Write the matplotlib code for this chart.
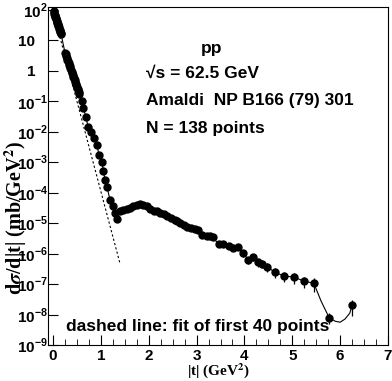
import numpy as np
import matplotlib
matplotlib.use("Agg")
import matplotlib.pyplot as plt
from matplotlib.ticker import FixedLocator, FixedFormatter, MultipleLocator

plt.rcParams['font.family'] = ['Liberation Sans', 'DejaVu Sans']
plt.rcParams['font.weight'] = 'bold'
plt.rcParams['mathtext.fontset'] = 'custom'
plt.rcParams['mathtext.rm'] = 'Liberation Sans:bold'
plt.rcParams['mathtext.bf'] = 'Liberation Sans:bold'

# |t| (GeV^2) and dsigma/dt (mb/GeV^2)
t_vals = [0.010, 0.018, 0.026, 0.034, 0.042, 0.050, 0.058, 0.066, 0.074, 0.082,
          0.090, 0.098, 0.106, 0.114, 0.122, 0.130, 0.138, 0.146, 0.154, 0.162, 0.170,
          0.250, 0.2625, 0.275, 0.2875, 0.300, 0.3125, 0.325, 0.3375, 0.350, 0.3625,
          0.375, 0.3875, 0.400, 0.4125, 0.425, 0.4375, 0.450, 0.4625, 0.475, 0.4875,
          0.500, 0.5125, 0.525, 0.5375, 0.550,
          0.61, 0.63, 0.69, 0.73, 0.80, 0.86, 0.92, 0.96, 1.03, 1.05, 1.09, 1.13,
          1.19, 1.26, 1.30, 1.34,
          1.40, 1.47, 1.55, 1.61, 1.68, 1.76, 1.82, 1.89, 1.97, 2.03, 2.10, 2.18,
          2.24, 2.31, 2.39, 2.47, 2.54, 2.60, 2.66, 2.73, 2.81, 2.89, 2.96, 3.02,
          3.12, 3.21, 3.29, 3.35, 3.46, 3.56, 3.67, 3.77, 3.86, 3.98, 4.07, 4.17,
          4.28, 4.36, 4.47, 4.63, 4.82, 5.03, 5.24, 5.45, 5.77, 6.25]
dsdt = [91.2, 83.6, 76.6, 70.1, 64.3, 58.9, 54.0, 49.4, 45.3, 41.5,
        38.0, 34.8, 31.9, 29.2, 26.8, 24.5, 22.5, 20.6, 18.9, 17.3, 15.8,
        3.98, 3.50, 3.08, 2.70, 2.37, 2.08, 1.83, 1.61, 1.41, 1.24,
        1.09, 0.957, 0.841, 0.740, 0.649, 0.570, 0.501, 0.441, 0.386, 0.340,
        0.299, 0.262, 0.230, 0.202, 0.178,
        0.107, 0.059, 0.0316, 0.0148, 0.010, 0.0063, 0.0037, 0.0017, 1.0e-3, 5.0e-4,
        2.7e-4, 1.5e-4, 5.9e-5, 3.7e-5, 2.1e-5, 1.35e-5,
        2.5e-5, 2.7e-5, 2.9e-5, 3.2e-5, 3.7e-5, 4.0e-5, 4.3e-5, 4.0e-5, 3.7e-5, 2.9e-5,
        2.5e-5, 2.5e-5, 2.1e-5, 2.0e-5, 1.7e-5, 1.47e-5, 1.26e-5, 1.17e-5, 1.0e-5, 8.6e-6,
        7.4e-6, 6.8e-6, 6.3e-6, 5.9e-6, 4.0e-6, 3.7e-6, 3.7e-6, 3.4e-6, 2.0e-6, 2.1e-6,
        1.85e-6, 1.58e-6, 1.7e-6, 1.07e-6, 6.3e-7, 7.9e-7, 5.4e-7, 4.7e-7, 3.7e-7, 2.5e-7,
        1.85e-7, 1.7e-7, 1.26e-7, 1.07e-7, 7.9e-9, 2.0e-8]
# relative errors (only visible on the tail)
rel_err = [0.03] * 62 + [0.05] * 28 + [0.15, 0.15, 0.2, 0.2, 0.2, 0.25, 0.25, 0.25,
           0.3, 0.3, 0.3, 0.35, 0.35, 0.4, 0.4, 0.5, 0.4, 0.55]

# solid curve through the tail
tail_t = [5.45, 5.60, 5.77, 5.90, 6.00, 6.10, 6.20, 6.25]
tail_y = [1.07e-7, 2.8e-8, 7.9e-9, 6.0e-9, 5.6e-9, 7.1e-9, 1.1e-8, 2.0e-8]

# exponential fit of the first 40 points (dashed)
fit_t = [0.0, 1.40]
fit_y = [93.0, 4.7e-7]

ytick_vals = [1e-9, 1e-8, 1e-7, 1e-6, 1e-5, 1e-4, 1e-3, 1e-2, 1e-1, 1, 10, 100]
ytick_labels = ['10$^{-9}$', '10$^{-8}$', '10$^{-7}$', '10$^{-6}$', '10$^{-5}$',
                '10$^{-4}$', '10$^{-3}$', '10$^{-2}$', '10$^{-1}$', '1   ', '10   ', '10$^{2}$']

t = np.array(t_vals)
y = np.array(dsdt)
err = y * np.array(rel_err)

fig = plt.figure(figsize=(3.92, 3.81), dpi=100)
ax = fig.add_axes([48/392, 1-345/381, 340/392, 338/381])

ax.plot(t[:-2], y[:-2], '-', color='black', lw=0.8)
ax.plot(tail_t, tail_y, '-', color='black', lw=0.8)
ax.errorbar(t, y, yerr=err, fmt='o', color='black', ms=5, elinewidth=0.9, capsize=0)
ax.plot(fit_t, fit_y, '--', color='black', lw=0.8, dashes=(2, 2))

ax.set_yscale('log')
ax.set_xlim(-0.105, 7.0)
ax.set_ylim(10**-9.0, 10**2.1)

ax.xaxis.set_major_locator(MultipleLocator(1))
ax.xaxis.set_minor_locator(MultipleLocator(0.25))
ax.yaxis.set_major_locator(FixedLocator(ytick_vals))
ax.yaxis.set_major_formatter(FixedFormatter(ytick_labels))
ax.tick_params(which='both', direction='in', top=False, right=False)
ax.tick_params(which='major', length=7, labelsize=11, width=0.8)
ax.tick_params(which='minor', length=4, width=0.6)
ax.tick_params(axis='y', pad=0)
ax.tick_params(axis='x', pad=3)
for lab in ax.get_xticklabels() + ax.get_yticklabels():
    lab.set_fontweight('bold')

fig.text(218/392, 1-371/381, '|t| (GeV$^2$)', ha='center', va='center',
         fontsize=11, family='Liberation Serif', weight='bold',
         math_fontfamily='stix')
fig.text(16/392, 1-218/381, 'd$\\sigma$/d|t| (mb/GeV$^2$)', ha='center', va='center',
         rotation=90, fontsize=14.5, family='Liberation Serif', weight='bold',
         math_fontfamily='stix')

fig.text(212/392, 1-48/381, 'pp', ha='center', va='center', fontsize=12.5, weight='bold')
fig.text(146/392, 1-73/381, '\u221as = 62.5 GeV', ha='left', va='center', fontsize=12.5, weight='bold')
fig.text(146/392, 1-100/381, 'Amaldi  NP B166 (79) 301', ha='left', va='center', fontsize=12.5, weight='bold')
fig.text(146/392, 1-128/381, 'N = 138 points', ha='left', va='center', fontsize=12.5, weight='bold')
fig.text(66/392, 1-326/381, 'dashed line: fit of first 40 points', ha='left', va='center',
         fontsize=12.5, weight='bold')

fig.savefig('out.png', dpi=100)
